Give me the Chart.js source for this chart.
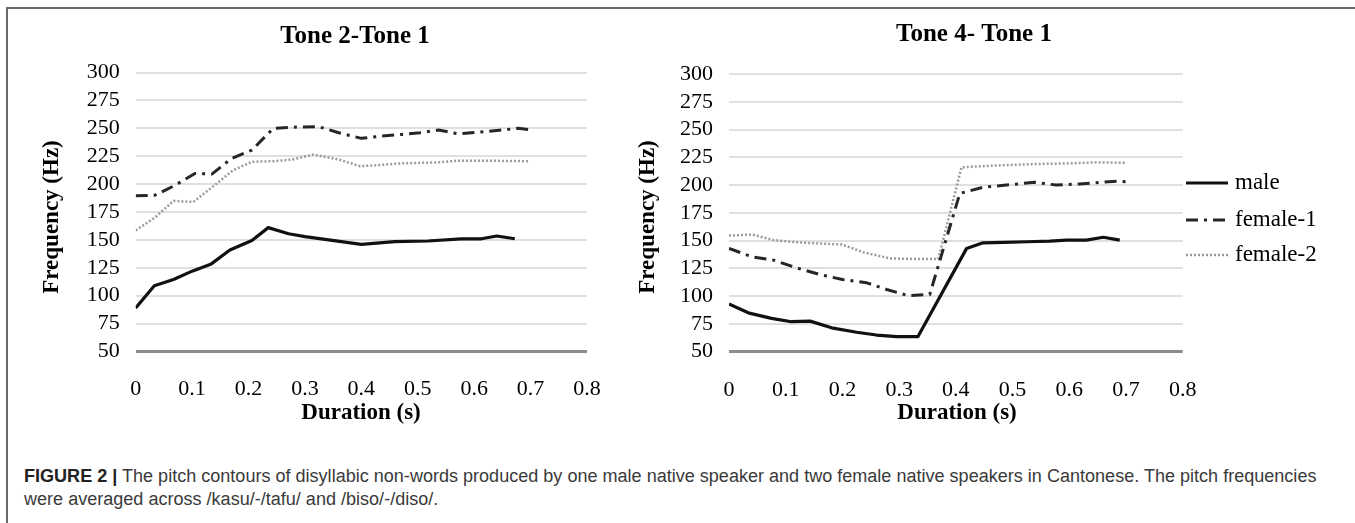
<!DOCTYPE html>
<html>
<head>
<meta charset="utf-8">
<script src="https://cdn.jsdelivr.net/npm/chart.js@4.4.1/dist/chart.umd.min.js"></script>
<style>
  html, body { margin: 0; padding: 0; background: #fff; }
  body { width: 1355px; height: 523px; position: relative; overflow: hidden; }
  #frame { position: absolute; left: 6px; top: 7px; width: 1349px; height: 516px;
           border-top: 2px solid #6a6a6a; border-left: 2px solid #6a6a6a; box-sizing: border-box; }
  canvas { position: absolute; top: 0; }
  #tone21 { left: 0; }
  #tone41 { left: 620px; }
  .cap { position: absolute; left: 24px; white-space: nowrap; color: #3a3a3a;
         font-family: "Liberation Sans", Arial, sans-serif; line-height: 22px; }
  .cap b { color: #222; }
</style>
</head>
<body>
<div id="frame"></div>
<canvas id="tone21" width="620" height="440"></canvas>
<canvas id="tone41" width="735" height="440"></canvas>
<div class="cap" id="cap1"><b>FIGURE 2 |</b> The pitch contours of disyllabic non-words produced by one male native speaker and two female native speakers in Cantonese. The pitch frequencies</div>
<div class="cap" id="cap2">were averaged across /kasu/-/tafu/ and /biso/-/diso/.</div>

<script>
// Axis tick labels
const xTickLabels = ['0', '0.1', '0.2', '0.3', '0.4', '0.5', '0.6', '0.7', '0.8'];
const yTickLabels = ['50', '75', '100', '125', '150', '175', '200', '225', '250', '275', '300'];
const seriesNames = ['male', 'female-1', 'female-2'];

// Tone 2 - Tone 1: time (s) and pitch (Hz) per speaker
const t21Male    = [0, 0.033, 0.067, 0.1, 0.134, 0.167, 0.206, 0.235, 0.271, 0.3, 0.4, 0.459, 0.518, 0.577, 0.613, 0.64, 0.672];
const hz21Male   = [89, 109, 114.5, 122, 128.5, 141, 149.5, 161, 155.5, 153, 146, 148.5, 149, 151, 151, 153.5, 151];
const t21Female1 = [0, 0.034, 0.07, 0.105, 0.135, 0.17, 0.206, 0.244, 0.277, 0.324, 0.36, 0.4, 0.436, 0.472, 0.504, 0.537, 0.572, 0.608, 0.64, 0.678, 0.696];
const hz21Female1 = [189.5, 190, 199, 209.5, 209, 223, 230.5, 250, 251, 251.5, 246, 241, 243, 244.5, 246, 248.5, 245, 246.5, 248, 250, 249];
const t21Female2 = [0, 0.034, 0.067, 0.102, 0.135, 0.173, 0.206, 0.244, 0.277, 0.315, 0.36, 0.398, 0.43, 0.466, 0.501, 0.537, 0.572, 0.613, 0.696];
const hz21Female2 = [158.5, 170, 185, 184, 197, 212.5, 220, 220.5, 222, 226.5, 222, 216, 217, 218.5, 219, 219.5, 221, 221, 220.5];

// Tone 4 - Tone 1: time (s) and pitch (Hz) per speaker
const t41Male    = [0, 0.034, 0.075, 0.11, 0.143, 0.181, 0.225, 0.26, 0.296, 0.333, 0.419, 0.448, 0.484, 0.525, 0.566, 0.595, 0.63, 0.66, 0.689];
const hz41Male   = [93, 85, 80, 77, 77.5, 71.5, 67.5, 65, 63.5, 63.5, 143, 148, 148.5, 149, 149.5, 150.5, 150.5, 153, 150.5];
const t41Female1 = [0, 0.04, 0.078, 0.119, 0.16, 0.2, 0.243, 0.278, 0.316, 0.354, 0.407, 0.448, 0.489, 0.539, 0.577, 0.618, 0.654, 0.689, 0.707];
const hz41Female1 = [143, 135.5, 132.5, 125.5, 119.5, 115, 112, 106, 100.5, 101.5, 192.5, 198, 200, 202.5, 200, 201, 202.5, 203.5, 202.5];
const t41Female2 = [0, 0.04, 0.078, 0.119, 0.157, 0.199, 0.237, 0.284, 0.325, 0.369, 0.41, 0.448, 0.489, 0.542, 0.6, 0.648, 0.7];
const hz41Female2 = [154.5, 155.5, 150.5, 148.5, 147.5, 146.5, 139.5, 134, 133.5, 133.5, 216, 217, 218, 219, 219.5, 220.5, 220];

const SERIF = '"Liberation Serif", "Times New Roman", serif';

// Line look for each speaker
const lineStyles = [
  { borderColor: '#111111', borderWidth: 3.2, borderDash: [] },
  { borderColor: '#262626', borderWidth: 3,   borderDash: [12, 6, 3, 6] },
  { borderColor: '#9a9a9a', borderWidth: 2.5, borderDash: [2, 2] }
];

function toPoints(ts, vs) { return ts.map((t, i) => ({ x: t, y: vs[i] })); }

// Titles, axis titles and (optionally) the legend, drawn on top of the plot
const chartText = {
  id: 'chartText',
  afterDraw(chart, args, o) {
    const ctx = chart.ctx;
    const ox = o.offsetX;
    ctx.save();
    ctx.fillStyle = '#000';
    ctx.textAlign = 'center';
    ctx.textBaseline = 'middle';
    ctx.font = 'bold 25px ' + SERIF;
    ctx.fillText(o.title, o.titleX - ox, o.titleY);
    ctx.font = 'bold 23px ' + SERIF;
    ctx.fillText('Duration (s)', o.xTitleX - ox, o.xTitleY);
    ctx.save();
    ctx.translate(o.yTitleX - ox, o.yTitleY);
    ctx.rotate(-Math.PI / 2);
    ctx.fillText('Frequency (Hz)', 0, 0);
    ctx.restore();
    if (o.legend) {
      const L = o.legend;
      chart.data.datasets.forEach((ds, i) => {
        const y = L.y[i];
        ctx.save();
        ctx.strokeStyle = ds.borderColor;
        ctx.lineWidth = ds.borderWidth;
        ctx.setLineDash(ds.borderDash || []);
        ctx.beginPath();
        ctx.moveTo(L.x0 - ox, y);
        ctx.lineTo(L.x1 - ox, y);
        ctx.stroke();
        ctx.restore();
        ctx.font = '23px ' + SERIF;
        ctx.textAlign = 'left';
        ctx.fillText(ds.label, L.textX - ox, y);
      });
    }
    ctx.restore();
  }
};

function makeChart(id, seriesT, seriesV, g) {
  const datasets = seriesNames.map((name, i) => Object.assign({
    label: name,
    data: toPoints(seriesT[i], seriesV[i]),
    pointRadius: 0,
    tension: 0,
    fill: false,
    borderJoinStyle: 'round',
    borderCapStyle: 'butt'
  }, lineStyles[i]));

  const canvas = document.getElementById(id);
  const W = canvas.width, H = canvas.height;
  const xAxisH = 60;

  return new Chart(canvas, {
    type: 'line',
    data: { datasets },
    plugins: [chartText],
    options: {
      responsive: false,
      animation: false,
      layout: {
        padding: {
          left: 0,
          top: g.plotTop,
          right: W - (g.plotRight - g.offsetX),
          bottom: H - g.plotBottom - xAxisH
        }
      },
      plugins: {
        legend: { display: false },
        title: { display: false },
        tooltip: { enabled: false },
        chartText: g
      },
      scales: {
        x: {
          type: 'linear',
          min: 0, max: 0.8,
          afterBuildTicks: (s) => { s.ticks = xTickLabels.map(v => ({ value: parseFloat(v) })); },
          ticks: {
            callback: (v, i) => xTickLabels[i],
            color: '#000',
            font: { family: SERIF, size: 22 },
            padding: 17,
            maxRotation: 0,
            autoSkip: false
          },
          grid: { display: false },
          border: { display: false },
          afterFit: (s) => { s.height = xAxisH; }
        },
        y: {
          type: 'linear',
          min: 50, max: 300,
          afterBuildTicks: (s) => { s.ticks = yTickLabels.map(v => ({ value: parseFloat(v) })); },
          ticks: {
            callback: (v, i) => yTickLabels[i],
            color: '#000',
            font: { family: SERIF, size: 22 },
            padding: g.tickGap,
            autoSkip: false
          },
          grid: {
            drawTicks: false,
            color: (c) => c.tick && c.tick.value === 50 ? '#8c8c8c' : '#e0e0e0',
            lineWidth: (c) => c.tick && c.tick.value === 50 ? 3 : 2
          },
          border: { display: false },
          afterFit: (s) => { s.width = g.plotLeft - g.offsetX; }
        }
      }
    }
  });
}

makeChart('tone21',
  [t21Male, t21Female1, t21Female2],
  [hz21Male, hz21Female1, hz21Female2],
  {
    offsetX: 0,
    plotLeft: 135.7, plotRight: 587, plotTop: 72.5, plotBottom: 351.5, tickGap: 16,
    title: 'Tone 2-Tone 1', titleX: 355, titleY: 37,
    xTitleX: 361, xTitleY: 413,
    yTitleX: 52, yTitleY: 217
  });

makeChart('tone41',
  [t41Male, t41Female1, t41Female2],
  [hz41Male, hz41Female1, hz41Female2],
  {
    offsetX: 620,
    plotLeft: 729, plotRight: 1182.7, plotTop: 74, plotBottom: 351.7, tickGap: 16,
    title: 'Tone 4- Tone 1', titleX: 974, titleY: 35,
    xTitleX: 957, xTitleY: 413,
    yTitleX: 648, yTitleY: 217,
    legend: { x0: 1186, x1: 1228, textX: 1235, y: [183, 220, 255] }
  });

// Caption sized so the first line spans its full width
(function () {
  const m = document.createElement('canvas').getContext('2d');
  const fam = '"Liberation Sans", Arial, sans-serif';
  const base = 16;
  m.font = 'bold ' + base + 'px ' + fam;
  let w = m.measureText('FIGURE 2 |').width;
  m.font = base + 'px ' + fam;
  w += m.measureText(' The pitch contours of disyllabic non-words produced by one male native speaker and two female native speakers in Cantonese. The pitch frequencies').width;
  const size = base * 1294 / w;
  const c1 = document.getElementById('cap1'), c2 = document.getElementById('cap2');
  c1.style.fontSize = c2.style.fontSize = size.toFixed(2) + 'px';
  c1.style.top = (476 - 11) + 'px';
  c2.style.top = (499 - 11) + 'px';
})();
</script>
</body>
</html>
